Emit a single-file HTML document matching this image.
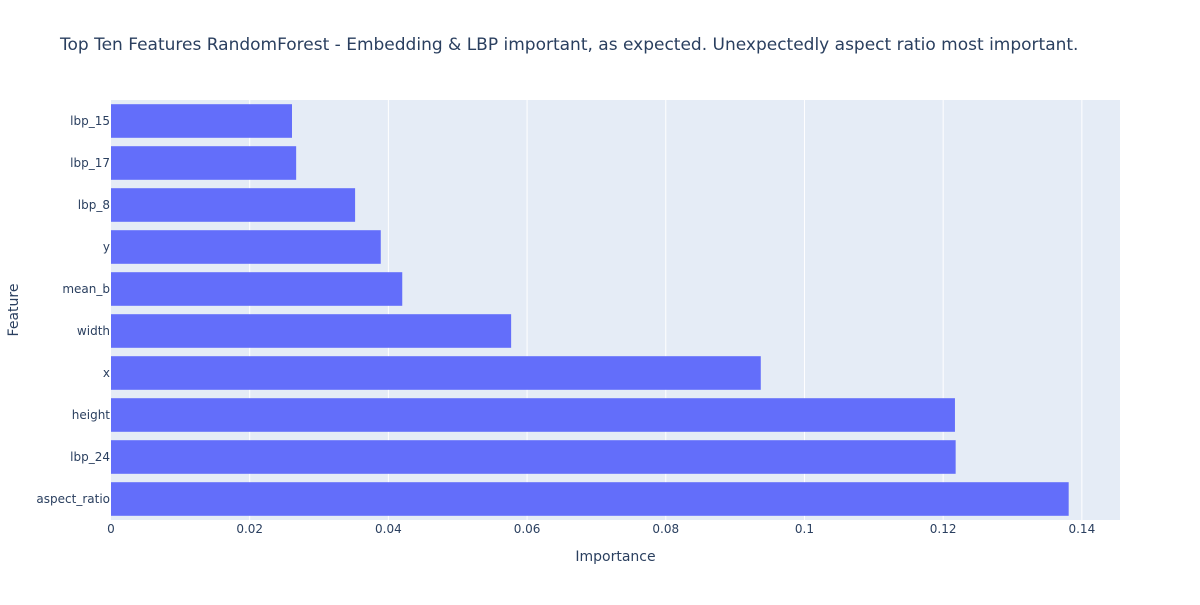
<!DOCTYPE html>
<html><head><meta charset="utf-8"><style>
body{margin:0;background:#fff;}
svg text{font-family:"DejaVu Sans","Liberation Sans",sans-serif;fill:#2a3f5f;}
</style></head><body>
<svg id="chart" width="1200" height="600" xmlns="http://www.w3.org/2000/svg">
<rect width="1200" height="600" fill="#fff"/>
<text x="60" y="50" font-size="17">Top Ten Features RandomForest - Embedding &amp; LBP important, as expected. Unexpectedly aspect ratio most important.</text>
<rect x="111" y="100" width="1009" height="420" fill="#e5ecf6"/>
<g id="grid"></g><g id="bars"></g><g id="xticks"></g><g id="yticks"></g>
<text x="615.5" y="561" font-size="14" text-anchor="middle">Importance</text>
<text transform="translate(18,310) rotate(-90)" font-size="14" text-anchor="middle">Feature</text>
</svg>
<script>
const categories=["aspect_ratio","lbp_24","height","x","width","mean_b","y","lbp_8","lbp_17","lbp_15"];
const values=[0.1381,0.1218,0.1217,0.0937,0.0577,0.0420,0.0389,0.0352,0.0267,0.0261];
const tickValues=[0,0.02,0.04,0.06,0.08,0.1,0.12,0.14];
const tickLabels=["0","0.02","0.04","0.06","0.08","0.1","0.12","0.14"];
const NS="http://www.w3.org/2000/svg";
const x0=111,x1=1120,y0=100,y1=520,xmax=0.1455;
const xs=v=>x0+(v/xmax)*(x1-x0);
const band=(y1-y0)/categories.length;
const ys=i=>y1-(i+1)*band;
function mk(t,a,p){const e=document.createElementNS(NS,t);for(const k in a)e.setAttribute(k,a[k]);p.appendChild(e);return e;}
const grid=document.getElementById('grid'),bars=document.getElementById('bars'),xt=document.getElementById('xticks'),yt=document.getElementById('yticks');
tickValues.forEach((v,i)=>{
  if(v>0){const l=mk('line',{x1:xs(v),x2:xs(v),y1:y0,y2:y1,stroke:'#fff','stroke-width':1},grid);
  
  }
  const t=mk('text',{x:xs(v),y:533,'font-size':12,'text-anchor':'middle'},xt);
  t.textContent=tickLabels[i];
  
  
});
categories.forEach((c,i)=>{
  const r=mk('rect',{x:x0,y:ys(i)+band*0.1,width:xs(values[i])-x0,height:band*0.8,fill:'#636efa'},bars);
  
  
  const t=mk('text',{x:x0-1,y:ys(i)+band/2+4,'font-size':12,'text-anchor':'end'},yt);
  t.textContent=c;
  
  
});
</script>
</body></html>
